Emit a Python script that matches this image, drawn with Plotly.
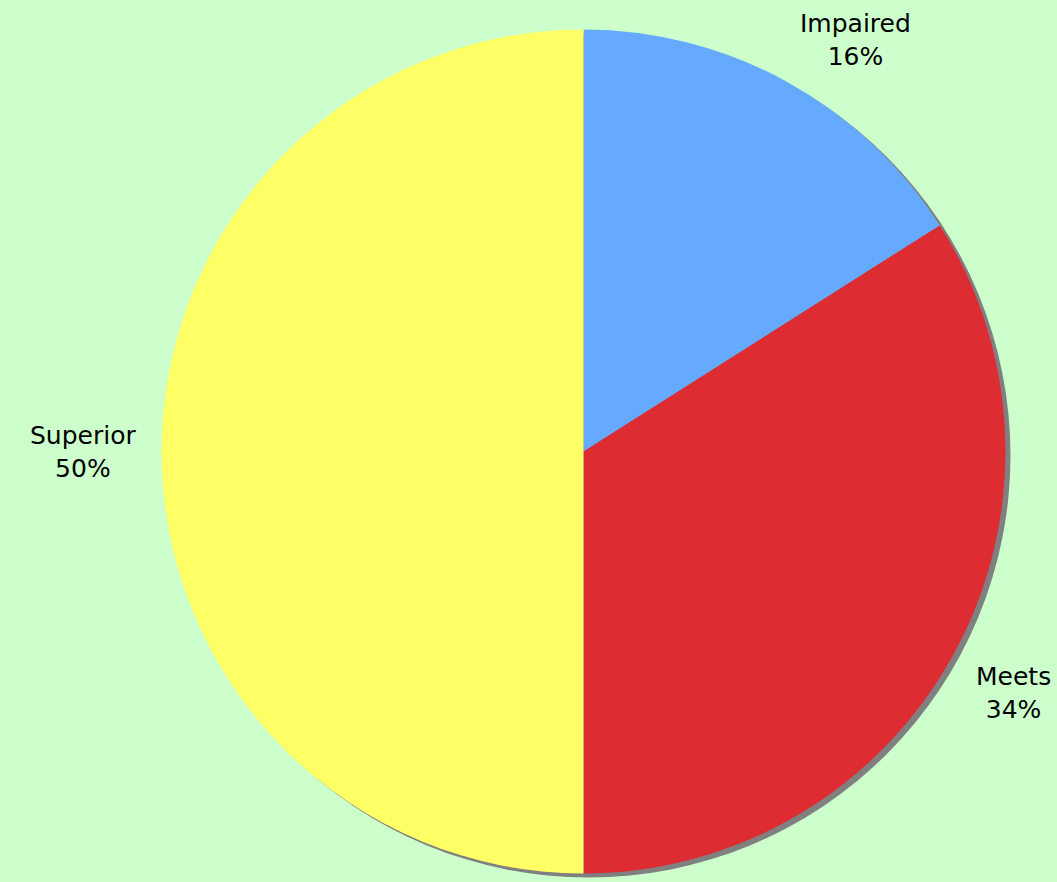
import math
import plotly.graph_objects as go

# Rating distribution
categories = ["Impaired", "Meets", "Superior"]
shares = [16, 34, 50]
slice_colors = ["#66aaff", "#dd2d33", "#ffff66"]

W, H = 1057, 882
cx, cy = 583.5, 451.5      # pie centre, px from top-left
r = 422                    # pie radius, px
shadow_dx, shadow_dy = 5, 4


def domain(dx=0, dy=0):
    x0 = (cx + dx - r) / W
    x1 = (cx + dx + r) / W
    yc = H - (cy + dy)
    return dict(x=[x0, x1], y=[(yc - r) / H, (yc + r) / H])


fig = go.Figure()

# drop shadow under the pie
fig.add_trace(go.Pie(
    values=[1], labels=["shadow"], marker=dict(colors=["#808080"], line=dict(width=0)),
    textinfo="none", hoverinfo="skip", sort=False, domain=domain(shadow_dx, shadow_dy),
    showlegend=False,
))

fig.add_trace(go.Pie(
    values=shares, labels=categories, sort=False, direction="clockwise", rotation=0,
    marker=dict(colors=slice_colors, line=dict(width=0)),
    textinfo="none", domain=domain(), showlegend=False,
))

# outside labels placed at each slice's mid-angle
total = sum(shares)
annotations = []
cum = 0
Rx, Ry = 446, 432
for name, v in zip(categories, shares):
    mid = (cum + v / 2) / total * 2 * math.pi
    cum += v
    s, c = math.sin(mid), math.cos(mid)
    px = cx + s * Rx
    py = cy - c * Ry
    xanchor = "left" if s > 0.2 else ("right" if s < -0.2 else "center")
    yanchor = "bottom" if c > 0.3 else ("top" if c < -0.3 else "middle")
    annotations.append(dict(
        x=px / W, y=1 - py / H, xref="paper", yref="paper",
        text=f"{name}<br>{round(v / total * 100)}%", showarrow=False,
        xanchor=xanchor, yanchor=yanchor, align="center",
        font=dict(family="DejaVu Sans", size=25, color="#000000"),
    ))

fig.update_layout(
    width=W, height=H,
    margin=dict(l=0, r=0, t=0, b=0),
    paper_bgcolor="#ccffcc", plot_bgcolor="#ccffcc",
    annotations=annotations,
)

fig.write_html("out.html")
